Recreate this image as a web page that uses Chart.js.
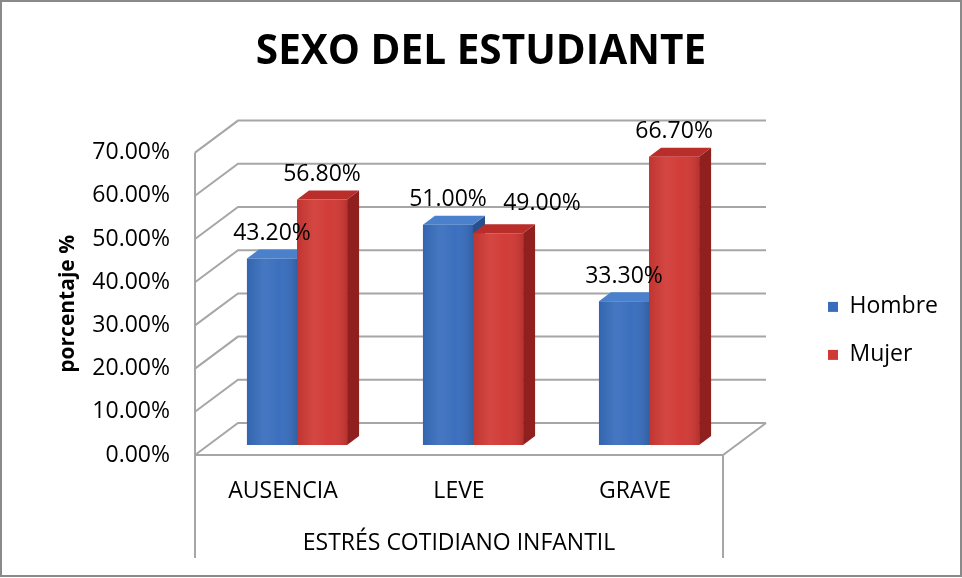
<!DOCTYPE html>
<html>
<head>
<meta charset="utf-8">
<script src="https://cdn.jsdelivr.net/npm/chart.js@4.4.1/dist/chart.umd.min.js"></script>
<style>
    html, body { margin: 0; padding: 0; background: #fff; }
    #wrap { width: 962px; height: 578px; }
</style>
</head>
<body>
<div id="wrap"><canvas id="chart" width="962" height="578"></canvas></div>
<script>
// Datos del gráfico
const categories = ['AUSENCIA', 'LEVE', 'GRAVE'];
const seriesNames = ['Hombre', 'Mujer'];
const hombre = [43.2, 51.0, 33.3];
const mujer = [56.8, 49.0, 66.7];
const yTicks = [0, 10, 20, 30, 40, 50, 60, 70];

// Efecto 3D (desplazamientos en px)
const WALL = { dx: 43, dy: -32 };
const BAR_SHIFT = { dx: 14, dy: -10 };
const BAR_DEPTH = { dx: 12, dy: -9 };

const palette = [
    { front: '#386dbd', top: '#4a80cc', side: '#28508d' },
    { front: '#d13935', top: '#b92d2a', side: '#8f201e' }
];

// etiqueta 49.00% desplazada a mano en el original
const labelNudge = { '1-1': [44, -5] };

const FONT = '"Open Sans", "DejaVu Sans", sans-serif';

function barBox(el) {
    const left = el.x - el.width / 2 + BAR_SHIFT.dx;
    return {
        left: left,
        right: left + el.width,
        top: el.y + BAR_SHIFT.dy,
        bottom: el.base + BAR_SHIFT.dy
    };
}

function poly(ctx, pts, color) {
    ctx.beginPath();
    ctx.moveTo(pts[0][0], pts[0][1]);
    for (let i = 1; i < pts.length; i++) ctx.lineTo(pts[i][0], pts[i][1]);
    ctx.closePath();
    ctx.fillStyle = color;
    ctx.fill();
}

const fake3d = {
    id: 'fake3d',
    beforeDraw(chart) {
        const { ctx, width, height } = chart;
        ctx.save();
        ctx.strokeStyle = '#8a8a8a';
        ctx.lineWidth = 2;
        ctx.strokeRect(1, 1, width - 2, height - 3);
        ctx.restore();
    },
    beforeDatasetsDraw(chart) {
        const { ctx, chartArea: a } = chart;
        const y = chart.scales.y;
        ctx.save();
        ctx.strokeStyle = '#a6a6a6';
        ctx.lineWidth = 2;

        // pared lateral y pared del fondo
        yTicks.forEach(v => {
            const py = y.getPixelForValue(v);
            ctx.beginPath();
            ctx.moveTo(a.left, py);
            ctx.lineTo(a.left + WALL.dx, py + WALL.dy);
            ctx.lineTo(a.right + WALL.dx, py + WALL.dy);
            ctx.stroke();
        });

        // eje frontal, suelo y marco de categorías
        const frameBottom = a.bottom + 103;
        ctx.beginPath();
        ctx.moveTo(a.left, a.top);
        ctx.lineTo(a.left, frameBottom);
        ctx.moveTo(a.left, a.bottom);
        ctx.lineTo(a.right, a.bottom);
        ctx.lineTo(a.right + WALL.dx, a.bottom + WALL.dy);
        ctx.moveTo(a.right, a.bottom);
        ctx.lineTo(a.right, frameBottom);
        ctx.stroke();

        // caras superiores y laterales, de izquierda a derecha
        categories.forEach((c, i) => {
            chart.data.datasets.forEach((ds, j) => {
                const el = chart.getDatasetMeta(j).data[i];
                const b = barBox(el);
                const d = BAR_DEPTH;
                poly(ctx, [[b.right, b.top], [b.right + d.dx, b.top + d.dy],
                    [b.right + d.dx, b.bottom + d.dy], [b.right, b.bottom]], palette[j].side);
                poly(ctx, [[b.left, b.top], [b.left + d.dx, b.top + d.dy],
                    [b.right + d.dx, b.top + d.dy], [b.right, b.top]], palette[j].top);
            });
        });
        ctx.restore();
    },
    beforeDatasetDraw(chart) {
        chart.ctx.save();
        chart.ctx.translate(BAR_SHIFT.dx, BAR_SHIFT.dy);
    },
    afterDatasetDraw(chart) {
        chart.ctx.restore();
    },
    afterDatasetsDraw(chart) {
        const { ctx } = chart;
        ctx.save();
        // sombreado cilíndrico de la cara frontal
        chart.data.datasets.forEach((ds, j) => {
            chart.getDatasetMeta(j).data.forEach(el => {
                const b = barBox(el);
                const g = ctx.createLinearGradient(b.left, 0, b.right, 0);
                g.addColorStop(0, 'rgba(0,0,0,0.08)');
                g.addColorStop(0.35, 'rgba(255,255,255,0.07)');
                g.addColorStop(0.65, 'rgba(255,255,255,0.02)');
                g.addColorStop(1, 'rgba(0,0,0,0.12)');
                ctx.fillStyle = g;
                ctx.fillRect(b.left, b.top, b.right - b.left, b.bottom - b.top);
            });
        });

        // etiquetas de valor
        ctx.font = '23px ' + FONT;
        ctx.fillStyle = '#000';
        ctx.textAlign = 'center';
        ctx.textBaseline = 'middle';
        chart.data.datasets.forEach((ds, j) => {
            chart.getDatasetMeta(j).data.forEach((el, i) => {
                const b = barBox(el);
                const n = labelNudge[i + '-' + j] || [0, 0];
                const txt = ds.data[i].toFixed(2) + '%';
                ctx.fillText(txt, (b.left + b.right) / 2 + n[0], b.top - 25 + n[1]);
            });
        });
        ctx.restore();
    }
};

const ctx = document.getElementById('chart').getContext('2d');
new Chart(ctx, {
    type: 'bar',
    data: {
        labels: categories,
        datasets: [
            {
                label: seriesNames[0],
                data: hombre,
                yAxisID: 'y',
                backgroundColor: palette[0].front,
                borderColor: palette[0].side,
                borderWidth: 0,
                clip: false
            },
            {
                label: seriesNames[1],
                data: mujer,
                yAxisID: 'y',
                backgroundColor: palette[1].front,
                borderColor: palette[1].side,
                borderWidth: 0,
                clip: false
            }
        ]
    },
    options: {
        responsive: false,
        animation: false,
        events: [],
        layout: { padding: { left: 14, right: 14, top: 0, bottom: 0 } },
        datasets: {
            bar: { categoryPercentage: 0.569, barPercentage: 1 }
        },
        scales: {
            x: {
                grid: { display: false, drawTicks: false },
                border: { display: false },
                ticks: { color: '#000', font: { family: FONT, size: 23 }, padding: 23, maxRotation: 0 },
                title: {
                    display: true,
                    text: 'ESTRÉS COTIDIANO INFANTIL',
                    color: '#000',
                    font: { family: FONT, size: 23 },
                    padding: { top: 0, bottom: 21 }
                },
                afterFit(s) { s.height = 123; }
            },
            y: {
                min: 0,
                max: 70,
                grid: { display: false, drawTicks: false },
                border: { display: false },
                ticks: {
                    stepSize: 10,
                    color: '#000',
                    font: { family: FONT, size: 23 },
                    padding: 25,
                    callback: v => v.toFixed(2) + '%'
                },
                title: {
                    display: true,
                    text: 'porcentaje %',
                    color: '#000',
                    font: { family: FONT, size: 21, weight: 'bold' },
                    padding: { top: 41, bottom: 0 }
                },
                afterFit(s) { s.width = 181; }
            },
            yR: {
                position: 'right',
                display: true,
                grid: { display: false, drawTicks: false },
                border: { display: false },
                ticks: { display: false },
                afterFit(s) { s.width = 80; }
            }
        },
        plugins: {
            title: {
                display: true,
                text: 'SEXO DEL ESTUDIANTE',
                color: '#000',
                font: { family: FONT, size: 40.5, weight: 'bold' },
                padding: { top: 28, bottom: 76 }
            },
            legend: {
                position: 'right',
                align: 'start',
                title: { display: true, text: '', font: { size: 12 }, padding: { top: 256, bottom: 0 } },
                labels: {
                    color: '#000',
                    font: { family: FONT, size: 23 },
                    boxWidth: 10,
                    boxHeight: 10,
                    padding: 25
                }
            },
            tooltip: { enabled: false }
        }
    },
    plugins: [fake3d]
});
</script>
</body>
</html>
